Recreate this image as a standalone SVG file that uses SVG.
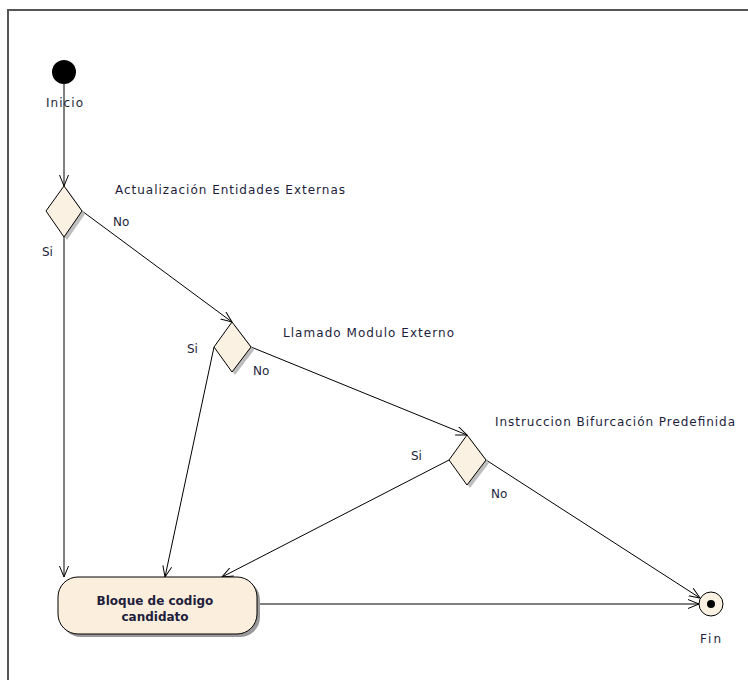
<svg xmlns="http://www.w3.org/2000/svg" width="748" height="680" viewBox="0 0 748 680">
<defs>
<style>
.lbl{font-family:"DejaVu Sans","Liberation Sans",sans-serif;font-size:12px;fill:#1e1e3c}
.bold{font-family:"DejaVu Sans","Liberation Sans",sans-serif;font-size:12px;font-weight:bold;fill:#1e1e3c}
.dia{fill:#FBF1E3;stroke:#000;stroke-width:1}
.shadow{fill:#bdbdbd;stroke:none}
.edge{fill:none;stroke:#000;stroke-width:1}
</style>
<marker id="arr" markerWidth="12" markerHeight="10" refX="11" refY="5" orient="auto" markerUnits="userSpaceOnUse">
<path d="M0,0.5 L11,5 L0,9.5" fill="none" stroke="#000" stroke-width="1"/>
</marker>
</defs>
<rect x="0" y="0" width="748" height="680" fill="#fff"/>
<path d="M8,680 L8,10 L748,10" fill="none" stroke="#555" stroke-width="2"/>

<g id="connectors">
<line class="edge" x1="64" y1="84" x2="64" y2="186" marker-end="url(#arr)"/>
<line class="edge" x1="64" y1="237" x2="64" y2="577" marker-end="url(#arr)"/>
<line class="edge" x1="82" y1="211" x2="232" y2="322" marker-end="url(#arr)"/>
<line class="edge" x1="214" y1="347" x2="165" y2="577" marker-end="url(#arr)"/>
<line class="edge" x1="251" y1="347" x2="467" y2="435" marker-end="url(#arr)"/>
<line class="edge" x1="449" y1="460" x2="222" y2="577" marker-end="url(#arr)"/>
<line class="edge" x1="486" y1="460" x2="700" y2="598" marker-end="url(#arr)"/>
<line class="edge" x1="257" y1="604" x2="699" y2="604" marker-end="url(#arr)"/>
<text class="lbl" x="42" y="256">Si</text>
<text class="lbl" x="113" y="226">No</text>
<text class="lbl" x="187" y="353">Si</text>
<text class="lbl" x="253" y="375">No</text>
<text class="lbl" x="411" y="460">Si</text>
<text class="lbl" x="491" y="498">No</text>
</g>

<g id="inicio">
<circle cx="64" cy="72" r="12" fill="#000"/>
<text class="lbl" x="46" y="107" textLength="37" lengthAdjust="spacing">Inicio</text>
</g>

<g id="decision1">
<polygon class="shadow" points="67,189 85,214 67,240 49,214"/>
<polygon class="dia" points="64,186 82,211 64,237 46,211"/>
<text class="lbl" x="115" y="194" textLength="230" lengthAdjust="spacing">Actualización Entidades Externas</text>
</g>

<g id="decision2">
<polygon class="shadow" points="235,325 254,350 235,375 217,350"/>
<polygon class="dia" points="232,322 251,347 232,372 214,347"/>
<text class="lbl" x="283" y="337" textLength="171" lengthAdjust="spacing">Llamado Modulo Externo</text>
</g>

<g id="decision3">
<polygon class="shadow" points="470,438 489,463 470,488 452,463"/>
<polygon class="dia" points="467,435 486,460 467,485 449,460"/>
<text class="lbl" x="495" y="426" textLength="240" lengthAdjust="spacing">Instruccion Bifurcación Predefinida</text>
</g>

<g id="bloque">
<rect x="61" y="580" width="199" height="57" rx="20" ry="20" fill="#9a9a9a"/>
<rect x="58" y="577" width="199" height="57" rx="20" ry="20" fill="#FBEEDD" stroke="#000" stroke-width="1"/>
<text class="bold" x="155" y="605" text-anchor="middle">Bloque de codigo</text>
<text class="bold" x="155" y="621" text-anchor="middle">candidato</text>
</g>

<g id="fin">
<circle cx="711" cy="604" r="12" fill="#FBF1E3" stroke="#000" stroke-width="1"/>
<circle cx="711" cy="604" r="4" fill="#000"/>
<text class="lbl" x="700" y="643" textLength="21" lengthAdjust="spacing">Fin</text>
</g>
</svg>
